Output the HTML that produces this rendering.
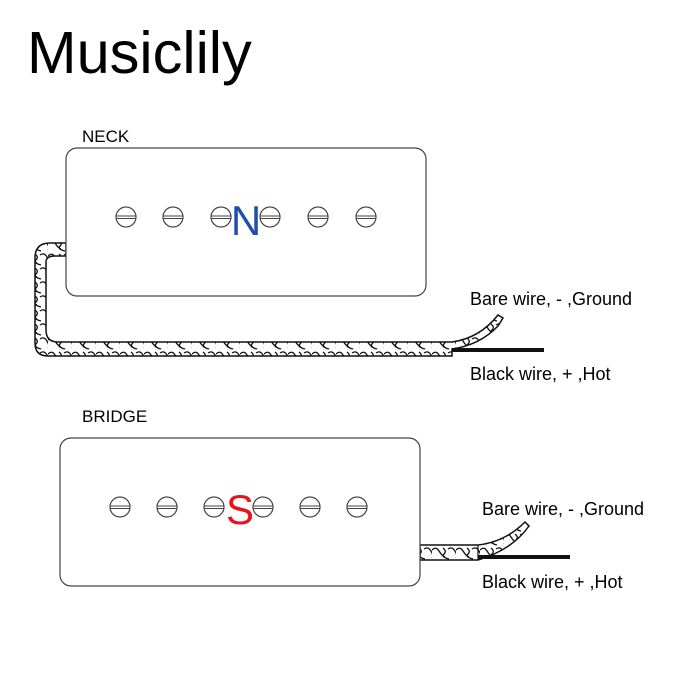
<!DOCTYPE html>
<html><head><style>
body{margin:0;background:#fff;}
svg{display:block;}
text{font-family:"Liberation Sans",sans-serif;}
</style></head><body>
<svg width="700" height="700" viewBox="0 0 700 700">
<defs>
<pattern id="sq" width="24" height="14" patternUnits="userSpaceOnUse">
<path d="M0 4 q4 -4 7 1 t6 6 M11 2 q4 3 1 6 t5 5 M16 3 q4 -3 7 2 t1 7" fill="none" stroke="#111" stroke-width="1.3"/>
</pattern>
<g id="screw"><circle r="10" fill="#fff" stroke="#444" stroke-width="1.2"/><line x1="-10" y1="-1" x2="10" y2="-1" stroke="#444" stroke-width="1"/><line x1="-10" y1="1.5" x2="10" y2="1.5" stroke="#444" stroke-width="1"/></g>
</defs>
<text x="27" y="73" font-size="59.5">Musiclily</text>
<text x="82" y="142" font-size="17">NECK</text>
<text x="82" y="422" font-size="17">BRIDGE</text>

<path d="M66 243 L50 243 Q35 243 35 258 L35 343 Q35 356 48 356 L452 356 L452 349 Q480 345 498 326 L503 318 L498 315 Q480 338 452 342 L58 342 Q46 342 46 330 L46 262 Q46 256 55 256 L66 256 Z" fill="url(#sq)" stroke="#111" stroke-width="1.5"/>
<line x1="452" y1="350" x2="544" y2="350" stroke="#111" stroke-width="4"/>
<rect x="66" y="148" width="360" height="148" rx="11" fill="#fff" stroke="#444" stroke-width="1.2"/>
<use href="#screw" x="126" y="217"/><use href="#screw" x="173" y="217"/><use href="#screw" x="221" y="217"/>
<use href="#screw" x="270" y="217"/><use href="#screw" x="318" y="217"/><use href="#screw" x="366" y="217"/>
<text x="246" y="235" font-size="42" fill="#1f4fa8" text-anchor="middle">N</text>
<text x="470" y="305" font-size="18">Bare wire, - ,Ground</text>
<text x="470" y="380" font-size="18">Black wire, + ,Hot</text>

<path d="M420 545 L478 545 Q505 542 525 522 L529 526 Q512 550 478 560 L420 560 Z" fill="url(#sq)" stroke="#111" stroke-width="1.5"/>
<line x1="478" y1="545" x2="478" y2="560" stroke="#111" stroke-width="1.2"/>
<line x1="478" y1="557" x2="570" y2="557" stroke="#111" stroke-width="4"/>
<rect x="60" y="438" width="360" height="148" rx="11" fill="#fff" stroke="#444" stroke-width="1.2"/>
<use href="#screw" x="120" y="507"/><use href="#screw" x="167" y="507"/><use href="#screw" x="214" y="507"/>
<use href="#screw" x="263" y="507"/><use href="#screw" x="310" y="507"/><use href="#screw" x="357" y="507"/>
<text x="240" y="524" font-size="42" fill="#e8141b" text-anchor="middle">S</text>
<text x="482" y="515" font-size="18">Bare wire, - ,Ground</text>
<text x="482" y="588" font-size="18">Black wire, + ,Hot</text>
</svg>
</body></html>
